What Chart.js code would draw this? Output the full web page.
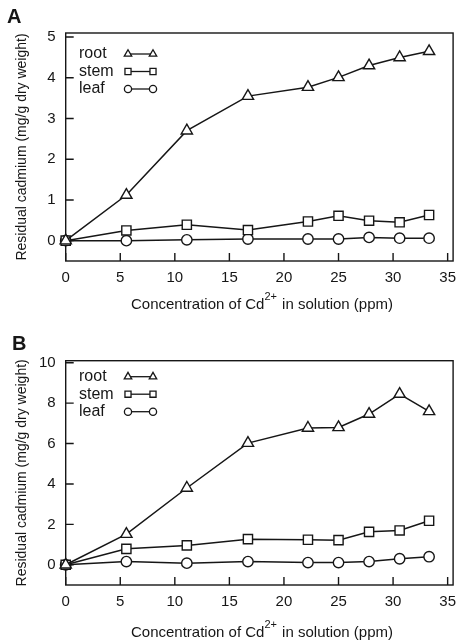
<!DOCTYPE html>
<html lang="en">
<head>
    <meta charset="UTF-8">
    <title>Residual cadmium</title>
    <script src="https://cdn.jsdelivr.net/npm/chart.js"></script>
    <style>
        html, body {
            margin: 0;
            padding: 0;
            background: #ffffff;
            overflow: hidden;
        }
        .panel {
            position: relative;
            width: 461px;
        }
        #panelA { height: 320px; }
        #panelB { height: 324px; }
    </style>
</head>
<body>
    <div class="panel" id="panelA"><canvas id="chartA"></canvas></div>
    <div class="panel" id="panelB"><canvas id="chartB"></canvas></div>

    <script>
        // Cd2+ concentration in solution (ppm)
        const concentration = [0, 5.56, 11.1, 16.7, 22.2, 25, 27.8, 30.6, 33.3];

        // Panel A
        const rootA = [0, 1.12, 2.70, 3.55, 3.77, 4.01, 4.30, 4.50, 4.65];
        const stemA = [0, 0.25, 0.39, 0.26, 0.47, 0.61, 0.49, 0.45, 0.63];
        const leafA = [0, 0.00, 0.02, 0.04, 0.04, 0.04, 0.08, 0.06, 0.06];

        // Panel B
        const rootB = [0, 1.52, 3.80, 6.02, 6.77, 6.80, 7.46, 8.45, 7.59];
        const stemB = [0, 0.79, 0.96, 1.27, 1.24, 1.22, 1.63, 1.70, 2.18];
        const leafB = [0, 0.16, 0.08, 0.16, 0.11, 0.11, 0.16, 0.30, 0.40];

        const xTicks = [0, 5, 10, 15, 20, 25, 30, 35];
        const yTicksA = [0, 1, 2, 3, 4, 5];
        const yTicksB = [0, 2, 4, 6, 8, 10];

        const ink = '#161616';
        const family = 'Arial, "Liberation Sans", Helvetica, sans-serif';

        function series(label, values, style, radius) {
            return {
                label: label,
                data: values.map((v, i) => ({ x: concentration[i], y: v })),
                showLine: true,
                borderColor: ink,
                borderWidth: 1.5,
                backgroundColor: '#ffffff',
                pointStyle: style,
                pointRadius: radius,
                pointBorderWidth: 1.4,
                pointBorderColor: ink,
                pointBackgroundColor: '#ffffff',
                clip: false
            };
        }

        // box, inner ticks, legend with line samples, panel letter and x title
        const framePlugin = {
            id: 'frame',
            beforeDatasetsDraw(chart, args, opts) {
                const { ctx, chartArea: a, scales: { x, y } } = chart;
                ctx.save();
                ctx.strokeStyle = ink;
                ctx.lineWidth = 1.4;
                ctx.strokeRect(a.left, a.top, a.right - a.left, a.bottom - a.top);
                ctx.beginPath();
                x.ticks.forEach(t => {
                    const px = x.getPixelForValue(t.value);
                    ctx.moveTo(px, a.bottom);
                    ctx.lineTo(px, a.bottom - 8);
                });
                y.ticks.forEach(t => {
                    const py = y.getPixelForValue(t.value);
                    ctx.moveTo(a.left, py);
                    ctx.lineTo(a.left + 8, py);
                });
                ctx.stroke();

                // legend
                ctx.font = '16px ' + family;
                ctx.textBaseline = 'middle';
                chart.data.datasets.forEach((ds, i) => {
                    const cy = a.top + opts.legendTop + i * 17.5;
                    const r = ds.pointStyle === 'circle' ? 3.6 : 4.3;
                    ctx.fillStyle = ink;
                    ctx.fillText(ds.label, 79, cy);
                    ctx.beginPath();
                    ctx.moveTo(128, cy);
                    ctx.lineTo(153, cy);
                    ctx.lineWidth = 1.3;
                    ctx.stroke();
                    ctx.fillStyle = '#ffffff';
                    [128, 153].forEach(px => {
                        Chart.helpers.drawPoint(ctx, {
                            pointStyle: ds.pointStyle,
                            radius: r,
                            rotation: 0,
                            borderWidth: 1.2
                        }, px, cy);
                    });
                });

                // panel letter
                ctx.fillStyle = ink;
                ctx.font = 'bold 20px ' + family;
                ctx.textBaseline = 'alphabetic';
                ctx.textAlign = 'left';
                ctx.fillText(opts.letter, opts.letterX, opts.letterY);

                // x axis title with superscript
                const main = '15px ' + family;
                const sup = '11px ' + family;
                const p1 = 'Concentration of Cd', p2 = '2+', p3 = ' in solution (ppm)';
                ctx.font = main;
                const w1 = ctx.measureText(p1).width, w3 = ctx.measureText(p3).width;
                ctx.font = sup;
                const w2 = ctx.measureText(p2).width + 1;
                let tx = opts.titleX - (w1 + w2 + w3) / 2;
                const ty = a.bottom + opts.titleDy;
                ctx.textBaseline = 'middle';
                ctx.font = main;
                ctx.fillText(p1, tx, ty);
                tx += w1;
                ctx.font = sup;
                ctx.fillText(p2, tx, ty - 8);
                tx += w2;
                ctx.font = main;
                ctx.fillText(p3, tx, ty);
                ctx.restore();
            }
        };

        function makeChart(id, root, stem, leaf, yMin, yMax, yTicks, frameOpts, top) {
            return new Chart(document.getElementById(id), {
                type: 'scatter',
                data: {
                    datasets: [
                        series('root', root, 'triangle', 6.5),
                        series('stem', stem, 'rect', 6.5),
                        series('leaf', leaf, 'circle', 5.2)
                    ]
                },
                options: {
                    responsive: true,
                    maintainAspectRatio: false,
                    animation: false,
                    layout: { padding: { top: top, right: 1.4, bottom: 0, left: 0 } },
                    plugins: {
                        legend: { display: false },
                        tooltip: { enabled: false },
                        frame: frameOpts
                    },
                    scales: {
                        x: {
                            type: 'linear',
                            min: 0,
                            max: 35.5,
                            grid: { display: false, drawTicks: false },
                            border: { display: false },
                            ticks: { color: ink, font: { family: family, size: 15 }, padding: 8, maxRotation: 0 },
                            afterBuildTicks: s => { s.ticks = xTicks.map(v => ({ value: v })); },
                            afterFit: s => { s.height = 59; s.paddingLeft = 0; s.paddingRight = 0; }
                        },
                        y: {
                            type: 'linear',
                            min: yMin,
                            max: yMax,
                            grid: { display: false, drawTicks: false },
                            border: { display: false },
                            ticks: { color: ink, font: { family: family, size: 15 }, padding: 10 },
                            afterBuildTicks: s => { s.ticks = yTicks.map(v => ({ value: v })); },
                            afterFit: s => { s.width = 65.7; s.paddingTop = 0; s.paddingBottom = 0; },
                            title: {
                                display: true,
                                text: 'Residual cadmium (mg/g dry weight)',
                                color: ink,
                                font: { family: family, size: 14 },
                                padding: { top: 14, bottom: 0 }
                            }
                        }
                    }
                },
                plugins: [framePlugin]
            });
        }

        makeChart('chartA', rootA, stemA, leafA, -0.5, 5.1, yTicksA,
            { letter: 'A', letterX: 7, letterY: 23, legendTop: 21, titleX: 262, titleDy: 44 }, 33);
        makeChart('chartB', rootB, stemB, leafB, -1, 10.1, yTicksB,
            { letter: 'B', letterX: 12, letterY: 30, legendTop: 16, titleX: 262, titleDy: 48 }, 40.7);
    </script>
</body>
</html>
